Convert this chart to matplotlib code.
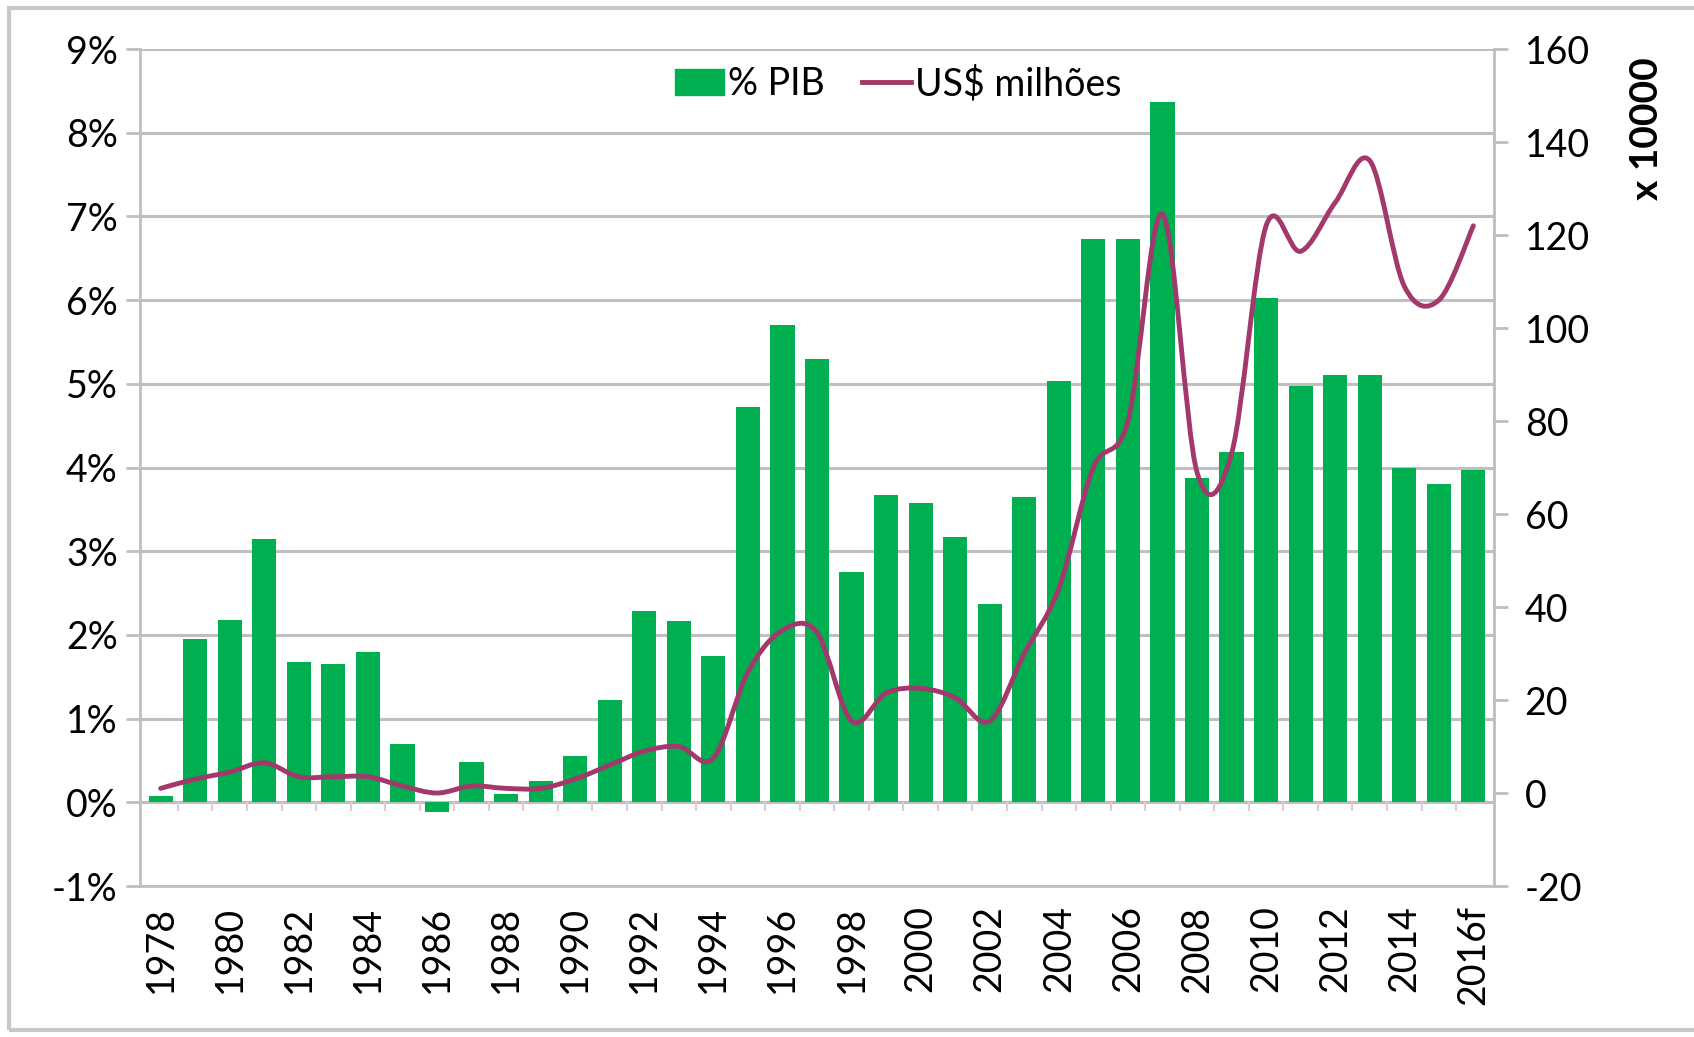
import numpy as np
import matplotlib.pyplot as plt
from matplotlib.path import Path
from matplotlib.patches import PathPatch, Rectangle
from matplotlib.lines import Line2D
from matplotlib.ticker import FuncFormatter

plt.rcParams['font.family'] = ['Lato', 'DejaVu Sans']
plt.rcParams['axes.unicode_minus'] = False

# anos (categorias)
years = [str(y) for y in range(1978, 2016)] + ['2016f']

# % PIB (eixo esquerdo)
pct_pib = [0.08, 1.95, 2.18, 3.15, 1.68, 1.65, 1.80, 0.70, -0.12, 0.48,
           0.10, 0.25, 0.55, 1.22, 2.28, 2.17, 1.75, 4.72, 5.70, 5.30,
           2.75, 3.67, 3.58, 3.17, 2.37, 3.65, 5.03, 6.73, 6.73, 8.37,
           3.88, 4.18, 6.03, 4.97, 5.10, 5.10, 4.00, 3.80, 3.97]

# US$ milhoes x 10000 (eixo direito)
usd_mi = [1.0, 3.0, 4.5, 6.5, 3.5, 3.5, 3.5, 1.5, 0.0, 1.5,
          1.0, 1.0, 3.0, 6.0, 9.0, 10.0, 7.5, 26.0, 35.0, 34.5,
          15.5, 21.5, 22.5, 20.5, 15.5, 30.0, 44.0, 70.0, 80.0, 124.5,
          69.0, 73.0, 122.0, 116.5, 127.0, 136.0, 109.0, 106.0, 122.0]

green = '#00b050'
wine = '#a3386c'
grid_c = '#bfbfbf'

fig = plt.figure(figsize=(16.94, 10.37), dpi=100)
ax = fig.add_axes([0.0826, 0.1456, 0.7994, 0.8071])
ax2 = ax.twinx()

x = np.arange(len(years))
ax.bar(x, pct_pib, width=0.7, color=green, zorder=3)

ax.set_ylim(-1, 9)
ax.set_xlim(-0.6, len(years) - 0.4)
ax.set_yticks(np.arange(-1, 10, 1))
ax.yaxis.set_major_formatter(FuncFormatter(lambda v, p: f'{v:.0f}%'))
ax.grid(axis='y', color=grid_c, linewidth=2.2, zorder=0)
ax.set_axisbelow(True)

ax.set_xticks(x[::2])
ax.set_xticklabels(years[::2], rotation=90)
ax.tick_params(axis='x', length=0, pad=14, labelsize=27)
ax.tick_params(axis='y', length=10, width=2, color=grid_c, labelsize=27, pad=6)

# marcas das categorias sobre a linha do zero
bounds = np.arange(len(years) + 1) - 0.5
ax.vlines(bounds[1:-1], -0.1, 0, color='#e3cbd5', linewidth=1.5, zorder=2)

for side in ['top']:
    ax.spines[side].set_visible(False)
    ax2.spines[side].set_visible(False)
for sp in [ax.spines['left'], ax.spines['bottom'], ax2.spines['right']]:
    sp.set_color(grid_c)
    sp.set_linewidth(2)
ax2.spines['left'].set_visible(False)
ax2.spines['bottom'].set_visible(False)

# linha suavizada (Bezier tipo Excel) no eixo direito
pts = np.column_stack([x, usd_mi]).astype(float)
verts = [tuple(pts[0])]
codes = [Path.MOVETO]
n = len(pts)
for i in range(n - 1):
    p0 = pts[max(i - 1, 0)]
    p1 = pts[i]
    p2 = pts[i + 1]
    p3 = pts[min(i + 2, n - 1)]
    c1 = p1 + (p2 - p0) / 6
    c2 = p2 - (p3 - p1) / 6
    verts += [tuple(c1), tuple(c2), tuple(p2)]
    codes += [Path.CURVE4] * 3
ax2.add_patch(PathPatch(Path(verts, codes), facecolor='none', edgecolor=wine,
                        linewidth=3.5, zorder=4, capstyle='round', joinstyle='round'))

ax2.set_ylim(-20, 160)
ax2.set_yticks(np.arange(-20, 161, 20))
ax2.tick_params(axis='y', length=10, width=2, color=grid_c, labelsize=27, pad=12)

fig.text(0.972, 0.876, 'x 10000', rotation=90, fontsize=28, fontweight='bold',
         ha='center', va='center')

handles = [Rectangle((0, 0), 1, 1, color=green),
           Line2D([0], [0], color=wine, linewidth=3.5)]
leg = ax.legend(handles, ['% PIB', 'US$ milhões'], loc='center',
                bbox_to_anchor=(0.56, 0.958), ncol=2, frameon=False, fontsize=27,
                handlelength=1.3, handletextpad=0.1, columnspacing=1.0)
leg.set_zorder(6)

# moldura do grafico
fig.patches.append(Rectangle((9 / 1694, 1 - 1030 / 1037), 1.0, (1030 - 8) / 1037,
                             transform=fig.transFigure, fill=False,
                             edgecolor='#c8c8c8', linewidth=3))

fig.savefig('out.png', dpi=100)
